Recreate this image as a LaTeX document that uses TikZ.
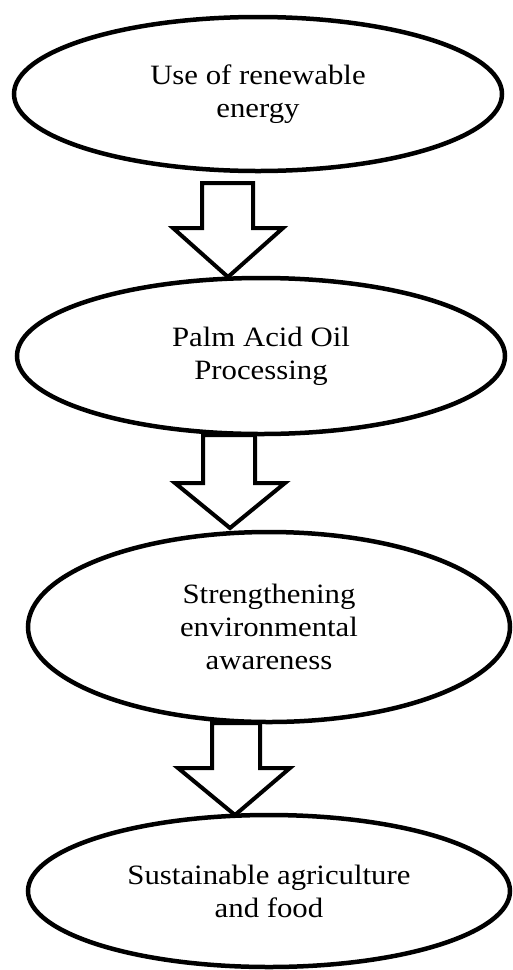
\documentclass[tikz,border=0pt]{standalone}
\usepackage{fontspec}
\setmainfont[FakeStretch=1.1]{Liberation Serif}
\usetikzlibrary{shapes.geometric}
\begin{document}
\begin{tikzpicture}[x=1pt,y=-1pt,
  oval/.style={ellipse, draw, line width=4.5pt, inner sep=0pt, align=center,
    font=\fontsize{28}{33}\selectfont},
  blockarrow/.style={draw, line width=4pt, fill=white, line join=miter}]
\useasboundingbox (0,0) rectangle (513,970);
\node[oval, minimum width=488pt, minimum height=154pt] (e1) at (258,94) {Use of renewable\\energy};
\node[oval, minimum width=488pt, minimum height=156pt] (e2) at (261,356) {Palm Acid Oil\\Processing};
\node[oval, minimum width=482pt, minimum height=190pt] (e3) at (269,627) {Strengthening\\environmental\\awareness};
\node[oval, minimum width=482pt, minimum height=152pt] (e4) at (269,891) {Sustainable agriculture\\and food};
\draw[blockarrow] (202,183) -- (253,183) -- (253,228) -- (283,228) -- (228,277) -- (173,228) -- (202,228) -- cycle;
\draw[blockarrow] (203,435) -- (255,435) -- (255,483) -- (285,483) -- (230,528) -- (175,483) -- (203,483) -- cycle;
\draw[blockarrow] (212,723) -- (260,723) -- (260,768) -- (290,768) -- (235,815) -- (178,768) -- (212,768) -- cycle;
\end{tikzpicture}
\end{document}
